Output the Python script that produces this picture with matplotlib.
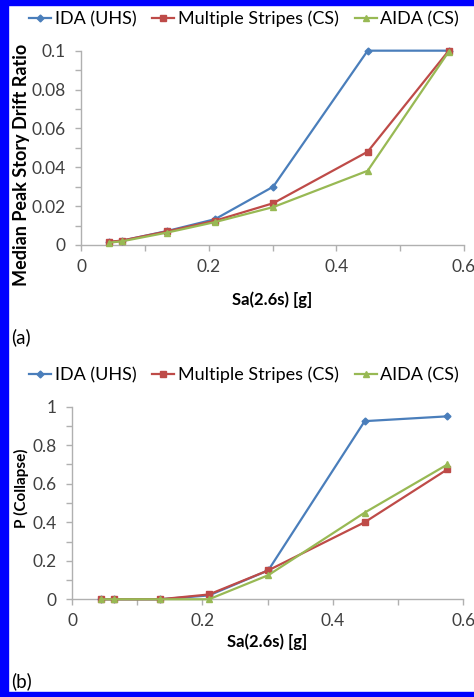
import numpy as np
import matplotlib.pyplot as plt
from matplotlib.patches import Rectangle
from matplotlib.ticker import MultipleLocator, FuncFormatter

plt.rcParams['font.family'] = ['Lato', 'DejaVu Sans']

# x values (Sa at 2.6s, g)
sa = [0.044, 0.064, 0.135, 0.210, 0.301, 0.449, 0.576]

# (a) median peak story drift ratio
drift_ida = [0.0015, 0.0022, 0.0072, 0.0133, 0.0300, 0.1000, 0.1000]
drift_ms = [0.0016, 0.0023, 0.0070, 0.0125, 0.0215, 0.0480, 0.1000]
drift_aida = [0.0012, 0.0019, 0.0064, 0.0118, 0.0195, 0.0382, 0.0995]

# (b) probability of collapse
pc_ida = [0.0, 0.0, 0.0, 0.02, 0.15, 0.925, 0.95]
pc_ms = [0.0, 0.0, 0.0, 0.025, 0.15, 0.40, 0.675]
pc_aida = [0.0, 0.0, 0.0, 0.0, 0.125, 0.45, 0.70]

names = ['IDA (UHS)', 'Multiple Stripes (CS)', 'AIDA (CS)']
colors = ['#4A7EBB', '#BE4B48', '#98B954']
markers = ['D', 's', '^']
msizes = [3.5, 5, 5]

fig = plt.figure(figsize=(4.74, 6.97), dpi=100)
ax1 = fig.add_axes([0.171, 0.6485, 0.808, 0.2788])
ax2 = fig.add_axes([0.152, 0.1402, 0.825, 0.2763])


def style(ax, ymax, ymaj, ymin, ylabel, ysize):
    for s in ['top', 'right']:
        ax.spines[s].set_visible(False)
    for s in ['left', 'bottom']:
        ax.spines[s].set_color('#b0b0b0')
        ax.spines[s].set_linewidth(1)
    ax.set_xlim(0, 0.6)
    ax.set_ylim(0, ymax)
    ax.xaxis.set_major_locator(MultipleLocator(0.2))
    ax.xaxis.set_minor_locator(MultipleLocator(0.1))
    ax.yaxis.set_major_locator(MultipleLocator(ymaj))
    ax.yaxis.set_minor_locator(MultipleLocator(ymin))
    fmt = FuncFormatter(lambda v, p: f'{round(v, 4):g}')
    ax.xaxis.set_major_formatter(fmt)
    ax.yaxis.set_major_formatter(fmt)
    ax.tick_params(which='both', direction='out', length=4, width=1,
                   color='#b0b0b0', labelsize=12.5, labelcolor='#404040')
    ax.tick_params(axis='y', pad=7)
    ax.tick_params(axis='x', pad=6)
    ax.set_xlabel('Sa(2.6s) [g]', fontsize=12, fontweight='bold')
    ax.set_ylabel(ylabel, fontsize=ysize, fontweight='bold')


series_a = [drift_ida, drift_ms, drift_aida]
series_b = [pc_ida, pc_ms, pc_aida]

for ax, series in [(ax1, series_a), (ax2, series_b)]:
    for y, n, c, m, ms in zip(series, names, colors, markers, msizes):
        ax.plot(sa, y, color=c, marker=m, markersize=ms, linewidth=1.6,
                label=n, clip_on=False, zorder=3)

style(ax1, 0.1, 0.02, 0.01, 'Median Peak Story Drift Ratio', 13)
style(ax2, 1.0, 0.2, 0.1, 'P (Collapse)', 11)
ax1.xaxis.labelpad = 12
ax2.xaxis.labelpad = 3
ax1.yaxis.set_label_coords((30 - 81) / 383, 0.41)
ax2.yaxis.set_label_coords((29 - 72) / 391, 0.578)

for ax, ypix in [(ax1, 19), (ax2, 375)]:
    fig.legend(*ax.get_legend_handles_labels(), loc='center',
               bbox_to_anchor=(0.515, 1 - ypix / 697), ncol=3, frameon=False,
               fontsize=13, handlelength=1.2, handletextpad=0.2,
               columnspacing=0.9)

fig.text(11 / 474, 1 - 337 / 697, '(a)', fontsize=13.5, va='center')
fig.text(11 / 474, 1 - 681 / 697, '(b)', fontsize=13.5, va='center')

# blue frame on top, left and bottom
for r in [(0, 0, 8 / 474, 1), (0, 1 - 5 / 697, 1, 5 / 697), (0, 0, 1, 5 / 697)]:
    fig.patches.append(Rectangle(r[:2], r[2], r[3], transform=fig.transFigure,
                                 color='#0000ff', zorder=10))

fig.savefig('out.png', dpi=100)
